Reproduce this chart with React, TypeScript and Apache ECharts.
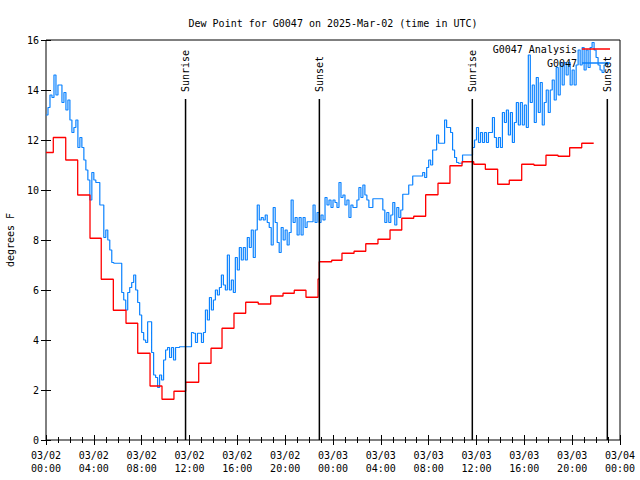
import React, { useEffect, useRef } from "react";
import * as echarts from "echarts";

// ---- data (hours since 03/02 00:00 UTC, dew point in °F) ----
const xTickHours = [0, 4, 8, 12, 16, 20, 24, 28, 32, 36, 40, 44, 48];
const yTicks = [0, 2, 4, 6, 8, 10, 12, 14, 16];

const analysisTimes = [
  0, 0.61, 1.65, 2.65, 3.68, 4.62, 5.63, 6.69, 7.67, 8.7, 9.7, 10.7, 11.68, 12.77, 13.8, 14.72,
  15.72, 16.7, 17.75, 18.79, 19.82, 20.76, 21.74, 22.75, 22.85, 23.89, 24.75, 25.76, 26.74, 27.76,
  28.77, 29.75, 30.75, 31.75, 32.78, 33.78, 34.79, 35.77, 36.74, 37.77, 38.74, 39.78, 40.81, 41.81,
  42.82, 43.79, 44.8, 45.8,
];
const analysisValues = [
  11.5, 12.1, 11.2, 9.8, 8.07, 6.43, 5.19, 4.67, 3.47, 2.16, 1.63, 1.95, 2.31, 3.07, 3.67, 4.47,
  5.07, 5.51, 5.44, 5.76, 5.87, 5.99, 5.71, 6.44, 7.13, 7.19, 7.47, 7.55, 7.85, 8.03,
  8.4, 8.87, 8.95, 9.81, 10.27, 10.97, 11.13, 11.03, 10.83, 10.23, 10.39, 11.03, 10.99, 11.39,
  11.35, 11.69, 11.87, 11.87,
];

// observations every 10 minutes from 00:00
const obsStartHour = 0;
const obsStepHours = 1 / 6;
const obsValues = [
  13.0, 13.3, 13.8, 13.7, 14.6, 13.8, 14.2, 14.2, 13.5, 13.9,
  13.2, 13.6, 12.8, 12.3, 12.5, 12.8, 11.7, 12.1, 11.7, 11.2,
  10.8, 10.4, 9.6, 10.7, 10.4, 10.3, 10.3, 9.4, 9.4, 8.1,
  8.4, 8.0, 7.6, 7.1, 7.07, 7.07, 7.07, 7.07, 5.9, 5.6,
  5.2, 5.9, 6.1, 6.3, 6.6, 6.0, 5.5, 5.0, 4.3, 4.0,
  3.9, 4.73, 4.73, 3.5, 2.6, 2.5, 2.1, 2.6, 2.4, 3.2,
  3.6, 3.7, 3.3, 3.7, 3.2, 3.7, 3.7, 3.73, 3.73, 3.73,
  3.73, 3.73, 3.73, 4.3, 4.27, 3.9, 4.27, 4.27, 3.9, 4.3,
  5.2, 4.8, 5.7, 5.2, 5.6, 6.0, 5.8, 6.1, 6.6, 6.2,
  6.0, 7.4, 6.0, 6.4, 5.9, 7.3, 6.8, 7.7, 7.2, 7.7,
  7.2, 8.1, 7.7, 8.4, 7.3, 8.4, 9.4, 8.8, 8.9, 8.8,
  9.0, 8.7, 8.5, 7.8, 9.3, 8.7, 7.9, 7.5, 8.5, 8.0,
  8.4, 7.8, 8.3, 9.6, 8.7, 8.9, 8.2, 8.9, 8.2, 8.9,
  8.5, 8.73, 8.73, 8.73, 9.4, 8.7, 9.1, 8.7, 9.0, 8.8,
  9.7, 9.4, 9.6, 9.3, 9.6, 9.5, 9.3, 10.3, 9.7, 9.8,
  9.4, 9.6, 8.9, 9.4, 9.3, 9.3, 9.6, 10.1, 9.7, 10.2,
  9.8, 9.6, 9.3, 9.3, 9.65, 9.65, 9.65, 9.65, 9.65, 9.2,
  8.7, 9.1, 8.7, 9.0, 9.5, 8.6, 9.3, 8.9, 9.2, 9.83,
  9.83, 9.83, 10.2, 10.2, 10.56, 10.56, 10.56, 10.56, 10.56, 10.7,
  10.5, 10.9, 11.2, 11.0, 11.6, 11.6, 12.2, 11.87, 11.87, 11.87,
  12.8, 12.5, 12.5, 12.3, 11.6, 11.3, 11.1, 11.07, 11.07, 11.4,
  11.4, 11.4, 11.4, 11.4, 11.7, 12.0, 12.5, 11.9, 12.3, 11.9,
  12.3, 11.9, 12.3, 12.3, 12.9, 12.1, 11.7, 12.1, 11.7, 13.1,
  12.7, 13.2, 12.2, 13.1, 11.9, 12.7, 13.5, 12.6, 13.5, 12.6,
  13.4, 12.5, 15.4, 13.5, 14.2, 12.7, 14.5, 13.1, 14.3, 12.6,
  13.5, 14.0, 13.1, 14.0, 14.4, 13.6, 14.9, 13.8, 15.1, 14.2,
  15.1, 14.6, 15.1, 14.2, 14.8, 14.2, 15.0, 15.6, 15.0, 15.7,
  14.8, 15.6, 14.9, 15.7, 15.9, 15.6, 15.3, 15.0, 14.8, 14.7,
  15.0, 15.1, 15.0,
];

const sunTimes = [11.67, 22.86, 35.65, 46.94];
const sunLabels = ["Sunrise", "Sunset", "Sunrise", "Sunset"];
const sunLineTop = 13.64;

const FONT = "'DejaVu Sans Mono', 'Liberation Mono', monospace";

function hourLabel(h: number): string {
  const day = 2 + Math.floor(h / 24);
  const hh = h % 24;
  return `03/${String(day).padStart(2, "0")}\n${String(hh).padStart(2, "0")}:00`;
}

export default function App() {
  const ref = useRef<HTMLDivElement>(null);

  useEffect(() => {
    if (!ref.current) return;
    const chart = echarts.init(ref.current, null, { renderer: "svg" });

    const analysisData = analysisTimes.map((t, i) => [t, analysisValues[i]]);
    const obsData = obsValues.map((v, i) => [obsStartHour + i * obsStepHours, v]);
    const sunData = sunTimes.map((t) => [t, sunLineTop]);

    const xCommon = {
      type: "value" as const,
      min: xTickHours[0],
      max: xTickHours[xTickHours.length - 1],
      interval: 4,
      axisLine: { show: false },
      axisTick: { show: true, inside: true, length: 5, lineStyle: { color: "#000" } },
      minorTick: { show: true, splitNumber: 4, length: 3, lineStyle: { color: "#000" } },
      splitLine: { show: false },
      minorSplitLine: { show: false },
    };
    const yCommon = {
      type: "value" as const,
      min: yTicks[0],
      max: yTicks[yTicks.length - 1],
      interval: 2,
      axisLine: { show: false },
      axisTick: { show: true, inside: true, length: 5, lineStyle: { color: "#000" } },
      splitLine: { show: false },
    };

    const legendText = { fontFamily: FONT, fontSize: 10, color: "#000" };
    const legendBase = {
      right: 30,
      align: "right",
      icon: "rect",
      itemWidth: 28,
      itemHeight: 1.5,
      itemGap: 0,
      selectedMode: false,
      textStyle: legendText,
      padding: 0,
    };

    chart.setOption({
      animation: false,
      backgroundColor: "#fff",
      title: {
        text: "Dew Point for G0047 on 2025-Mar-02 (time in UTC)",
        left: 328,
        top: 13,
        textAlign: "center",
        textStyle: { fontFamily: FONT, fontSize: 10, fontWeight: "normal", color: "#000" },
      },
      legend: [
        { ...legendBase, data: ["G0047 Analysis"], top: 44 },
        { ...legendBase, data: ["G0047"], top: 58 },
      ],
      grid: {
        left: 46,
        right: 20,
        top: 40,
        bottom: 40,
        containLabel: false,
        outerBoundsMode: "none",
        show: true,
        borderColor: "#000",
        borderWidth: 1,
        backgroundColor: "transparent",
      },
      xAxis: [
        {
          ...xCommon,
          position: "bottom",
          axisLabel: {
            show: true,
            formatter: (v: number) => hourLabel(v),
            fontFamily: FONT,
            fontSize: 10,
            color: "#000",
            margin: 9,
            lineHeight: 13,
          },
        },
        { ...xCommon, position: "top", axisLabel: { show: false } },
      ],
      yAxis: [
        {
          ...yCommon,
          position: "left",
          name: "degrees F",
          nameLocation: "middle",
          nameGap: 31,
          nameRotate: 90,
          nameTextStyle: { fontFamily: FONT, fontSize: 10, color: "#000" },
          axisLabel: { show: true, fontFamily: FONT, fontSize: 10, color: "#000", margin: 7 },
        },
        { ...yCommon, position: "right", axisLabel: { show: false } },
      ],
      series: [
        {
          name: "G0047",
          type: "line",
          xAxisIndex: 0,
          yAxisIndex: 0,
          step: "end",
          symbol: "none",
          data: obsData,
          lineStyle: { color: "#0a82ff", width: 1.2 },
          itemStyle: { color: "#0a82ff" },
        },
        {
          name: "G0047 Analysis",
          type: "line",
          xAxisIndex: 0,
          yAxisIndex: 0,
          step: "end",
          symbol: "none",
          data: analysisData,
          lineStyle: { color: "#ff0000", width: 1.3 },
          itemStyle: { color: "#ff0000" },
        },
        {
          name: "sun",
          type: "custom",
          xAxisIndex: 0,
          yAxisIndex: 0,
          data: sunData,
          z: 10,
          renderItem: (params: any, api: any) => {
            const x = api.value(0);
            const top = api.value(1);
            const p0 = api.coord([x, 0]);
            const p1 = api.coord([x, top]);
            return {
              type: "group",
              children: [
                {
                  type: "line",
                  shape: { x1: p0[0], y1: p0[1], x2: p1[0], y2: p1[1] },
                  style: { stroke: "#000", lineWidth: 1.5 },
                },
                {
                  type: "text",
                  x: p1[0],
                  y: p1[1] - 7,
                  rotation: Math.PI / 2,
                  style: {
                    text: sunLabels[params.dataIndex],
                    font: `10px ${FONT}`,
                    fill: "#000",
                    align: "left",
                    verticalAlign: "middle",
                    textAlign: "left",
                    textVerticalAlign: "middle",
                  },
                },
              ],
            };
          },
        },
      ],
    });

    return () => chart.dispose();
  }, []);

  return (
    <div
      ref={ref}
      style={{ position: "fixed", left: 0, top: 0, width: 640, height: 480, background: "#fff" }}
    />
  );
}
